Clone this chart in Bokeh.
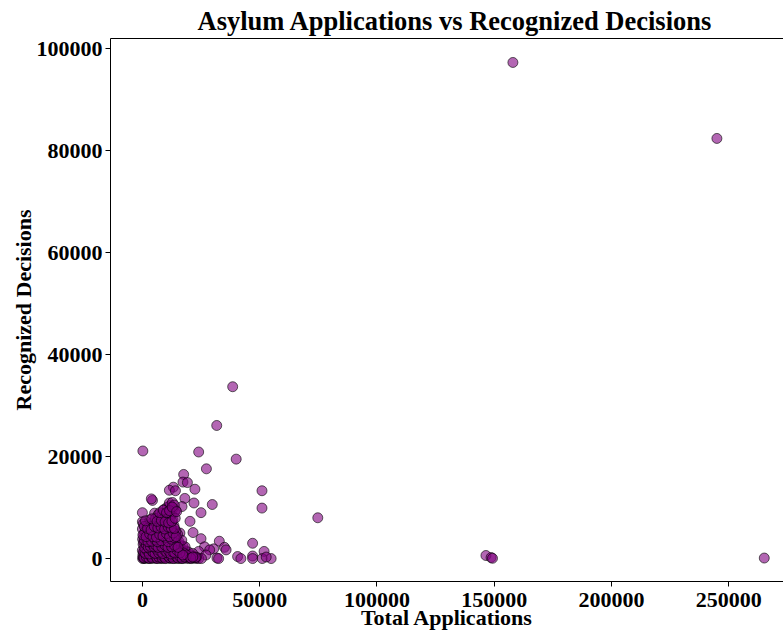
from bokeh.plotting import figure
from bokeh.models import Range1d, FixedTicker, LinearAxis, ColumnDataSource
from bokeh.embed import file_html
from bokeh.resources import INLINE

# Outlying / sparse points (total applications, recognized decisions)
outer_apps = [158000, 245000, 265200, 74800, 146500, 148700, 149300,
              38500, 31700, 200, 24000, 40000, 27300, 17600,
              17300, 19200, 13200, 11500, 14100, 22400, 51000,
              4300, 18100, 22000, 29800, 16900, 51000, 0, 5200, 25000,
              20300, 21600, 25000, 16000, 32800, 35000, 26500, 30400, 28700, 24000,
              27100, 31800, 40600, 47000, 35700, 51900, 47000, 47000, 51100, 54900,
              52800, 32500, 42000, 3800, 0]
outer_recog = [97300, 82400, 100, 8000, 600, 200, 50,
               33700, 26100, 21100, 20900, 19500, 17600, 16500,
               15000, 14900, 14000, 13400, 13300, 13600, 13300,
               11400, 11800, 10900, 10600, 10200, 9900, 9000, 8900, 9000,
               7300, 5100, 3900, 5000, 3400, 2200, 2300, 1900, 1700, 1400,
               700, 100, 400, 3000, 1700, 1400, 500, 0, 0, 0,
               300, 0, 0, 11700, 7200]

# Dense cluster of smaller countries
cluster_apps = [100, 500, 900, 1400, 2000, 2600, 3200, 3900, 4500, 5200, 5900, 6600, 7300, 8000, 8800, 9600,
                10400, 11200, 12000, 12900, 13800, 14700, 15600, 16500, 17400, 18300, 19200, 20100, 21000,
                22000, 23000, 24000, 25200,
                200, 1100, 2300, 3500, 4800, 6100, 7400, 8700, 10000, 11300, 12600, 13900, 15200, 16500,
                17800, 19100, 20500, 21800, 23000,
                0, 1500, 3000, 4400, 5800, 7200, 8600, 10000, 11400, 12800, 14200, 15600, 17000, 18400, 19600,
                300, 1800, 3300, 4700, 6200, 7600, 9000, 10500, 11900, 13300, 14700, 16000, 17300, 18200,
                100, 1600, 3000, 4500, 5900, 7300, 8700, 10100, 11500, 12900, 14300, 15600, 16800,
                600, 2100, 3700, 5200, 6600, 8100, 9500, 11000, 12400, 13800, 15000,
                0, 1400, 2900, 4400, 5900, 7400, 8800, 10300, 11700, 13100, 14300,
                400, 2300, 4200, 6000, 7700, 9200, 10700, 12100, 13500,
                3200, 5600, 7400, 8900, 10400, 11800, 13000,
                6700, 8400, 9800, 11200, 12500, 13700,
                9200, 10600, 11900, 13000, 14200,
                11500, 12800, 13600,
                300, 700, 1200, 2500, 3800, 5000, 6400, 7900, 9200, 10800, 12300, 13500, 15000, 16200,
                17600, 19800, 21400, 22600, 600, 2600, 4900, 7000, 9400, 12000, 14000, 1000, 3500, 6800,
                9900, 12700]
cluster_recog = [0, 50, 120, 30, 200, 80, 10, 150, 60, 250, 20, 180, 90, 0, 140, 40,
                 220, 70, 10, 160, 30, 110, 0, 90, 40, 150, 20, 60, 0,
                 100, 30, 10, 0,
                 700, 500, 900, 650, 800, 550, 950, 600, 750, 850, 500, 700, 900, 600,
                 800, 550, 700, 450, 300,
                 1600, 1900, 1400, 1800, 1500, 2000, 1700, 1500, 1900, 1600, 1800, 1400, 1700, 1500, 1300,
                 2800, 2500, 3000, 2600, 2900, 2500, 2800, 3000, 2600, 2900, 2500, 2700, 2400, 2300,
                 3800, 3500, 4000, 3600, 3900, 3400, 3800, 3600, 4000, 3500, 3700, 3300, 3600,
                 4700, 5000, 4500, 4900, 4600, 5000, 4700, 4500, 4900, 4600, 4800,
                 5800, 5500, 6000, 5600, 5900, 5500, 6000, 5700, 5800, 5600, 5400,
                 6800, 6500, 7000, 6600, 6900, 6500, 7000, 6700, 6400,
                 7600, 7900, 7500, 8000, 7700, 7900, 7600,
                 8600, 8800, 8500, 9000, 8700, 9100,
                 9600, 10100, 10400, 9800, 9500,
                 10900, 11000, 10500,
                 300, 1200, 2300, 400, 1100, 200, 1300, 500, 1100, 300, 1200, 400, 900, 200,
                 1100, 300, 1000, 200, 3200, 4200, 3100, 4300, 3200, 4400, 3100, 5200, 6300, 5400,
                 6400, 5300]

# More of the dense core
core_apps = [700, 1700, 2800, 3600, 4200, 5500, 6300, 7000, 7700, 8400, 9100, 9900, 10700, 11600, 12400,
             13200, 14200, 15100, 16000, 17000, 18000, 18800, 20600, 21500,
             500, 1300, 2100, 2900, 3700, 4600, 5400, 6200, 7000, 7800, 8700, 9500, 10400, 11200, 12100,
             13000, 13800, 14800, 16000, 17200,
             900, 1700, 2500, 3400, 4100, 5000, 5700, 6700, 7500, 8300, 9700, 10900, 12500, 13700, 15200,
             800, 2400, 3900, 5400, 6400, 8000, 9900, 11000, 12400, 13600,
             200, 1600, 3100, 4500, 6000, 7400, 8800, 10300, 11600, 13100, 14400,
             800, 2200, 3700, 5100, 6600, 8000, 9500, 11000, 12300, 13700,
             1300, 4000, 6300, 8100, 9700, 11200, 12600, 14000,
             7400, 8900, 10300, 11600, 12700, 14600]
core_recog = [100, 300, 50, 400, 100, 500, 0, 300, 700, 100, 400, 0, 600, 200, 400,
              0, 500, 100, 400, 0, 300, 700, 100, 300,
              1300, 1000, 1500, 900, 1600, 1200, 1000, 1700, 1100, 1400, 1000, 1600, 1200, 1500, 900,
              1300, 1100, 1600, 1100, 700,
              2100, 2700, 2200, 2400, 2900, 2300, 2600, 2200, 3100, 2300, 2600, 2200, 2300, 2600, 2200,
              3700, 3300, 3400, 3700, 3300, 3500, 4100, 3300, 3800, 4100,
              4600, 4300, 4800, 4300, 4200, 4700, 4400, 4900, 4300, 5000, 4300,
              6300, 5900, 5600, 6300, 6000, 6200, 5800, 6200, 6000, 5900,
              7400, 7800, 7300, 7500, 7200, 7000, 7300, 7900,
              9000, 9500, 9000, 9400, 10100, 9200]

x_ticks = [0, 50000, 100000, 150000, 200000, 250000]
x_tick_labels = ["0", "50000", "100000", "150000", "200000", "250000"]
y_ticks = [0, 20000, 40000, 60000, 80000, 100000]
y_tick_labels = ["0", "20000", "40000", "60000", "80000", "100000"]

FONT = "Liberation Serif"

source = ColumnDataSource(data=dict(
    apps=outer_apps + cluster_apps + core_apps,
    recog=outer_recog + cluster_recog + core_recog,
))

p = figure(width=783, height=633,
           x_range=Range1d(-13600, 273400), y_range=Range1d(-4500, 102000),
           output_backend="svg", toolbar_location=None,
           min_border_left=110, min_border_right=0, min_border_top=38, min_border_bottom=52)

p.scatter("apps", "recog", source=source, size=10,
          fill_color="#800080", fill_alpha=0.6,
          line_color="black", line_alpha=0.6, line_width=1)

p.title.text = "Asylum Applications vs Recognized Decisions"
p.title.align = "left"
p.title.offset = 87
p.title.standoff = 6
p.title.text_font = FONT
p.title.text_font_style = "bold"
p.title.text_font_size = "26.5px"
p.title.text_color = "black"

p.xgrid.visible = False
p.ygrid.visible = False
p.outline_line_color = None
p.background_fill_color = "white"
p.border_fill_color = "white"

p.xaxis.ticker = FixedTicker(ticks=x_ticks)
p.yaxis.ticker = FixedTicker(ticks=y_ticks)
p.xaxis.major_label_overrides = dict(zip(x_ticks, x_tick_labels))
p.yaxis.major_label_overrides = dict(zip(y_ticks, y_tick_labels))
p.xaxis.axis_label = "Total Applications"
p.yaxis.axis_label = "Recognized Decisions"

for ax in (p.xaxis[0], p.yaxis[0]):
    ax.major_label_text_font = FONT
    ax.major_label_text_font_style = "bold"
    ax.major_label_text_font_size = "22px"
    ax.major_label_text_color = "black"
    ax.axis_label_text_font = FONT
    ax.axis_label_text_font_style = "bold"
    ax.axis_label_text_font_size = "22px"
    ax.axis_label_text_color = "black"
    ax.minor_tick_line_color = None
    ax.major_tick_out = 5
    ax.major_tick_in = 0
    ax.major_tick_line_color = "black"
    ax.axis_line_color = "black"

p.xaxis.major_label_standoff = 6
p.xaxis.axis_label_standoff = -5
p.yaxis.major_label_standoff = 3
p.yaxis.axis_label_standoff = -2

# top spine
top = LinearAxis(ticker=FixedTicker(ticks=[]), major_label_text_font_size="0px",
                 major_tick_line_color=None, minor_tick_line_color=None,
                 axis_line_color="black")
p.add_layout(top, "above")

open("out.html", "w").write(file_html(p, INLINE))
